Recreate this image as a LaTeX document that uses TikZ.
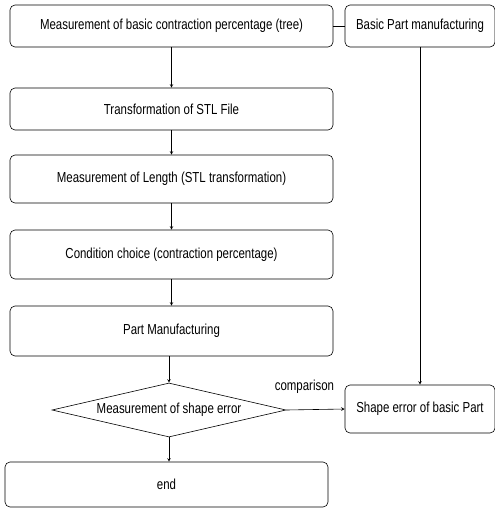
\documentclass[tikz,border=0pt]{standalone}
\usepackage{fontspec}
\setmainfont[FakeStretch=0.79]{Liberation Sans}
\usetikzlibrary{positioning}
\usetikzlibrary{arrows}
\usetikzlibrary{shapes.geometric}

\tikzset{
  stepbox/.style={draw, rounded corners=5pt, line width=0.6pt, inner sep=0pt,
    font=\fontsize{14.5}{16}\selectfont},
  decision/.style={draw, diamond, aspect=4.33, inner sep=0pt, line width=0.6pt,
    minimum width=234pt, minimum height=54pt, font=\fontsize{14.5}{16}\selectfont},
  flow/.style={-stealth, line width=0.6pt}
}

\begin{document}
\begin{tikzpicture}[x=1pt,y=-1pt]
			\useasboundingbox (0,0) rectangle (495,509);

			% Main column
			\node[stepbox, minimum width=323pt, minimum height=42pt] (tree) at (171.5,26) {Measurement of basic contraction percentage (tree)};
			\node[stepbox, minimum width=323pt, minimum height=42pt] (stl) at (171.5,109) {Transformation of STL File};
			\node[stepbox, minimum width=323pt, minimum height=48pt] (length) at (171.5,179) {Measurement of Length (STL transformation)};
			\node[stepbox, minimum width=323pt, minimum height=49pt] (choice) at (171.5,254.5) {Condition choice (contraction percentage)};
			\node[stepbox, minimum width=323pt, minimum height=50pt] (part) at (171.5,331) {Part Manufacturing};
			\node[decision] (shape) at (169,410) {Measurement of shape error};
			\node[stepbox, minimum width=323pt, minimum height=45pt] (end) at (166.5,484.5) {end};

			% Right column
			\node[stepbox, minimum width=150pt, minimum height=42pt] (basic) at (420,26) {Basic Part manufacturing};
			\node[stepbox, minimum width=150pt, minimum height=48pt] (error) at (420,409) {Shape error of basic Part};

			% Draw the lines
			\draw[line width=0.6pt] (tree) -- (basic);
			\draw[flow] (tree) -- (stl);
			\draw[flow] (stl) -- (length);
			\draw[flow] (length) -- (choice);
			\draw[flow] (choice) -- (part);
			\draw[flow] (part.south -| shape.north) -- (shape.north);
			\draw[flow] (shape.south) -- (end.north -| shape.south);
			\draw[flow] (basic) -- (error);
			\draw[flow] (shape.east) -- node[pos=1, anchor=south east, xshift=-7pt, yshift=12pt, font=\fontsize{14.5}{16}\selectfont] {comparison} (error.west);
\end{tikzpicture}
\end{document}
